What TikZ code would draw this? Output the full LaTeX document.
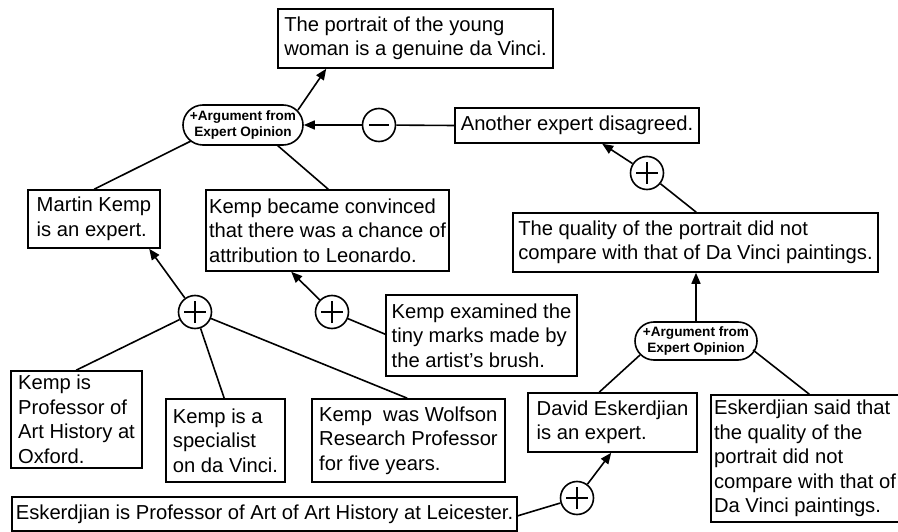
\documentclass[tikz,border=0pt]{standalone}
\usepackage{fontspec}
\setmainfont{Liberation Sans}
\usetikzlibrary{shapes.misc,arrows.meta,calc}
\begin{document}
\begin{tikzpicture}[x=1pt,y=-1pt,
  every path/.style={line width=1.6pt},
  txt/.style={draw, align=left, inner xsep=3pt, inner ysep=1pt, font=\fontsize{20.2}{24.5}\selectfont},
  argbox/.style={draw, rounded rectangle, minimum width=120pt, minimum height=40pt, inner sep=0pt, align=center, font=\bfseries\fontsize{13.6}{16}\selectfont},
  circbase/.style={draw, circle, minimum size=33pt, inner sep=0pt},
  pluscirc/.style={circbase, path picture={\draw[line width=1.7pt] (path picture bounding box.center) ++(-11pt,0pt) -- ++(22pt,0pt) (path picture bounding box.center) ++(0pt,-11pt) -- ++(0pt,22pt);}},
  minuscirc/.style={circbase, path picture={\draw[line width=1.7pt] (path picture bounding box.center) ++(-10pt,0pt) -- ++(20pt,0pt);}},
  arr/.style={-{Triangle[length=11pt,width=9pt]}}
]
\useasboundingbox (0,0) rectangle (898,532);

% boxes
\node[txt, minimum width=275pt, minimum height=59pt] (top) at (415.5,38.5) {The portrait of the young\\woman is a genuine da Vinci.};
\node[txt, minimum width=244pt, minimum height=35pt] (another) at (577,125.5) {Another expert disagreed.};
\node[txt, minimum width=132pt, minimum height=58pt] (martin) at (94,219) {Martin Kemp\\is an expert.};
\node[txt, minimum width=241pt, minimum height=81pt] (kc) at (327.5,230.5) {Kemp became convinced\\that there was a chance of\\attribution to Leonardo.};
\node[txt, minimum width=191pt, minimum height=81pt] (kexam) at (481.5,335.5) {Kemp examined the\\tiny marks made by\\the artist’s brush.};
\node[txt, minimum width=365pt, minimum height=59pt] (quality) at (695.5,242.5) {The quality of the portrait did not\\compare with that of Da Vinci paintings.};
\node[txt, minimum width=131pt, minimum height=97pt] (kprof) at (76.5,419.5) {Kemp is\\Professor of\\Art History at\\Oxford.};
\node[txt, minimum width=119pt, minimum height=83pt] (spec) at (225.5,440.5) {Kemp is a\\specialist\\on da Vinci.};
\node[txt, minimum width=193pt, minimum height=83pt] (wolf) at (408.5,440.5) {Kemp~ was Wolfson\\Research Professor\\for five years.};
\node[txt, minimum width=169pt, minimum height=59pt] (david) at (612.5,422.5) {David Eskerdjian\\is an expert.};
\node[txt, minimum width=184pt, minimum height=127pt] (esksaid) at (805,458.5) {Eskerdjian said that\\the quality of the\\portrait did not\\compare with that of\\Da Vinci paintings.};
\node[txt, minimum width=505pt, minimum height=34pt] (leic) at (264.5,514) {Eskerdjian is Professor of Art of Art History at Leicester.};

% argument nodes
\node[argbox] (arg1) at (243,125) {+Argument from\\Expert Opinion};
\node[argbox, minimum width=122pt, minimum height=38pt] (arg2) at (696,341) {+Argument from\\Expert Opinion};

% circles
\node[minuscirc] (minus) at (379,125) {};
\node[pluscirc] (plusL) at (195,312) {};
\node[pluscirc] (plusM) at (332,312) {};
\node[pluscirc] (plusR) at (647,173) {};
\node[pluscirc] (plusB) at (577,498) {};

% connectors
\draw[arr] ($(arg1.center)+(55,-15)$) -- ($(top.south west)+(49,0)$);
\draw[arr] (minus) -- (arg1.east);
\draw (another.west) -- (minus);
\draw ($(arg1.center)+(-52,16)$) -- ($(martin.north west)+(67,0)$);
\draw ($(arg1.center)+(34,20)$) -- ($(kc.north west)+(123,0)$);
\draw[arr] (plusL) -- ($(martin.south west)+(122,0)$);
\draw (plusL) -- ($(kprof.north west)+(66,0)$);
\draw (plusL) -- ($(spec.north west)+(59,0)$);
\draw (plusL) -- ($(wolf.north west)+(96,0)$);
\draw[arr] (plusM) -- ($(kc.south west)+(86,0)$);
\draw ($(kexam.north west)+(0,40)$) -- (plusM);
\draw[arr] (plusR) -- ($(another.south west)+(148,0)$);
\draw ($(quality.north west)+(184,0)$) -- (plusR);
\draw[arr] (arg2.north) -- (arg2.north |- quality.south);
\draw ($(arg2.center)+(-56,14)$) -- ($(david.north west)+(72,0)$);
\draw ($(arg2.center)+(57,9)$) -- ($(esksaid.north west)+(99,0)$);
\draw[arr] (plusB) -- ($(david.south west)+(84,0)$);
\draw ($(leic.south east)+(0,-16)$) -- (plusB);
\end{tikzpicture}
\end{document}
